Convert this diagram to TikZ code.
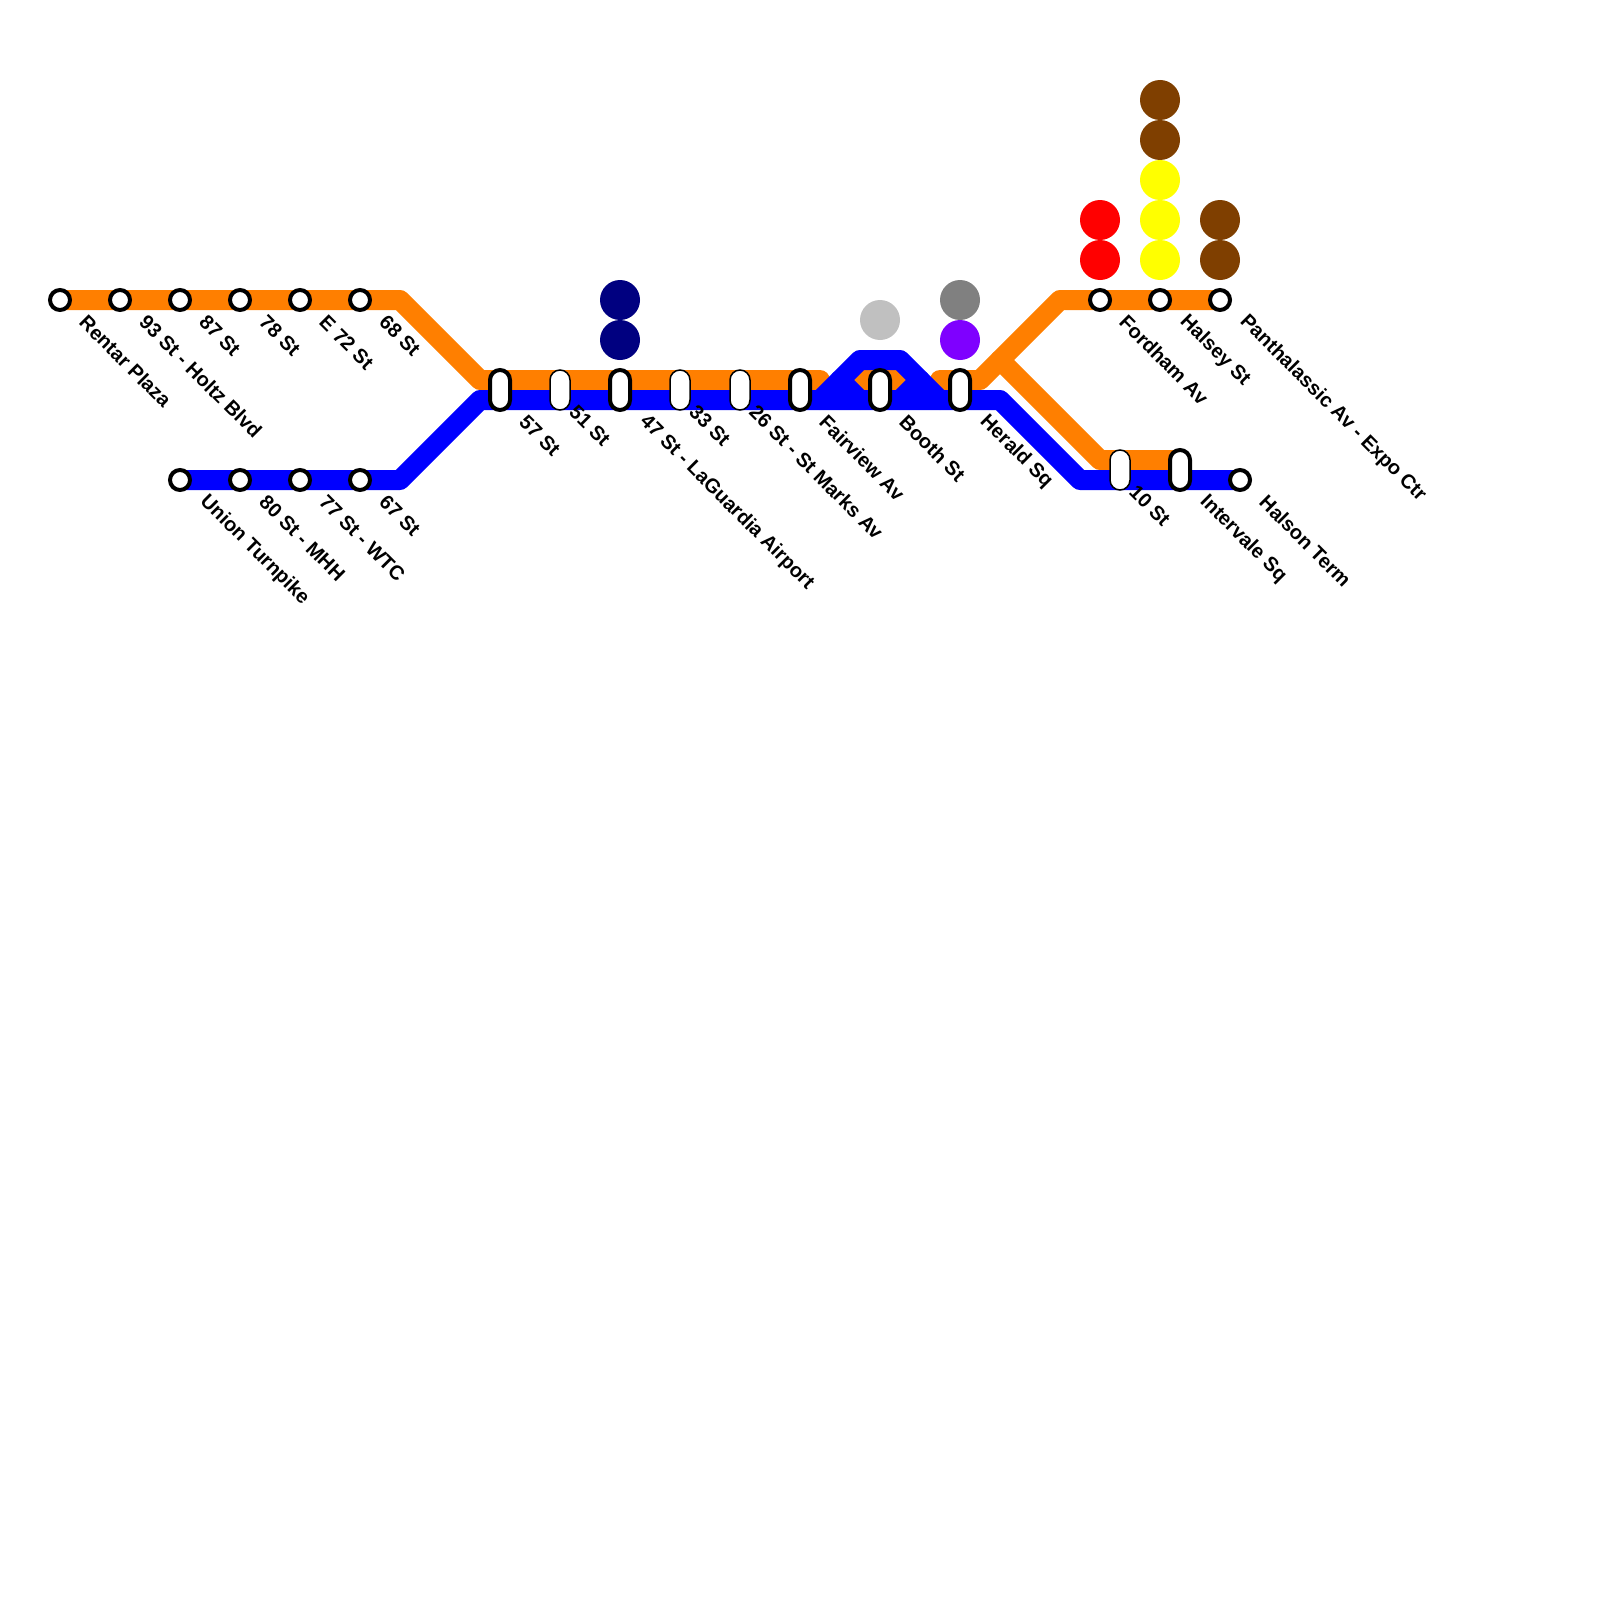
\documentclass[tikz,border=0pt]{standalone}
\usepackage{fontspec}
\setmainfont{Liberation Sans}
\tikzset{
  x=1pt,y=-1pt,
  orangeline/.style={draw=lineorange,line width=20pt,line join=round,line cap=round},
  blueline/.style={draw=lineblue,line width=20pt,line join=round,line cap=round},
  stop/.style={circle,draw=black,fill=white,line width=4pt,minimum size=20pt,inner sep=0pt},
  pillthick/.style={rectangle,draw=black,fill=white,line width=4pt,rounded corners=10pt,minimum width=20pt,minimum height=40pt,inner sep=0pt},
  pillthin/.style={rectangle,draw=black,fill=white,line width=1.5pt,rounded corners=10pt,minimum width=20pt,minimum height=40pt,inner sep=0pt},
  dot/.style={circle,minimum size=40pt,inner sep=0pt,fill=#1},
  lbl/.style={anchor=west,rotate=-45,inner sep=0pt,xshift=-4.5pt,yshift=3pt,font=\fontsize{20}{20}\selectfont\bfseries,text=black},
}
\definecolor{lineorange}{HTML}{FF7F00}
\definecolor{lineblue}{HTML}{0000FF}
\definecolor{dotnavy}{HTML}{000080}
\definecolor{dotbrown}{HTML}{7F3F00}
\definecolor{dotyellow}{HTML}{FFFF00}
\definecolor{dotred}{HTML}{FF0000}
\definecolor{dotpurple}{HTML}{7F00FF}
\definecolor{dotgray}{HTML}{808080}
\definecolor{dotsilver}{HTML}{C0C0C0}
\begin{document}
\begin{tikzpicture}
\useasboundingbox (0,0) rectangle (1600,1600);
% waypoints
\coordinate (oa) at (60,300);
\coordinate (ob) at (400,300);
\coordinate (oc) at (480,380);
\coordinate (oj) at (820,380);
\coordinate (ok) at (850,380);
\coordinate (ol) at (910,380);
\coordinate (om) at (940,380);
\coordinate (od) at (980,380);
\coordinate (oe) at (1060,300);
\coordinate (of) at (1220,300);
\coordinate (og) at (1000,360);
\coordinate (oh) at (1100,460);
\coordinate (oi) at (1180,460);
\coordinate (ba) at (180,480);
\coordinate (bb) at (400,480);
\coordinate (bc) at (480,400);
\coordinate (bd) at (1000,400);
\coordinate (be) at (1080,480);
\coordinate (bf) at (1240,480);
\coordinate (bg) at (820,400);
\coordinate (bh) at (860,360);
\coordinate (bi) at (900,360);
\coordinate (bj) at (940,400);
\coordinate (bk) at (840,380);
\coordinate (bl) at (860,400);
\coordinate (bm) at (920,380);
\coordinate (bn) at (900,400);
% lines
\draw[orangeline] (oa) -- (ob) -- (oc) -- (oj);
\draw[orangeline] (ok) -- (ol);
\draw[orangeline] (om) -- (od) -- (oe) -- (of);
\draw[orangeline] (og) -- (oh) -- (oi);
\draw[blueline] (ba) -- (bb) -- (bc) -- (bd) -- (be) -- (bf);
\draw[blueline] (bg) -- (bh) -- (bi) -- (bj);
\draw[blueline] (bk) -- (bl);
\draw[blueline] (bm) -- (bn);
% dots
\node[dot=dotnavy] (n1) at (620,300) {};
\node[dot=dotnavy] (n2) at (620,340) {};
\node[dot=dotsilver] (s1) at (880,320) {};
\node[dot=dotgray] (g1) at (960,300) {};
\node[dot=dotpurple] (p1) at (960,340) {};
\node[dot=dotred] (r1) at (1100,220) {};
\node[dot=dotred] (r2) at (1100,260) {};
\node[dot=dotbrown] (c1) at (1160,100) {};
\node[dot=dotbrown] (c2) at (1160,140) {};
\node[dot=dotyellow] (y1) at (1160,180) {};
\node[dot=dotyellow] (y2) at (1160,220) {};
\node[dot=dotyellow] (y3) at (1160,260) {};
\node[dot=dotbrown] (c3) at (1220,220) {};
\node[dot=dotbrown] (c4) at (1220,260) {};
% stations
\node[stop] (st1) at (60,300) {};
\node[stop] (st2) at (120,300) {};
\node[stop] (st3) at (180,300) {};
\node[stop] (st4) at (240,300) {};
\node[stop] (st5) at (300,300) {};
\node[stop] (st6) at (360,300) {};
\node[stop] (st7) at (180,480) {};
\node[stop] (st8) at (240,480) {};
\node[stop] (st9) at (300,480) {};
\node[stop] (st10) at (360,480) {};
\node[pillthick] (st11) at (500,390) {};
\node[pillthin] (st12) at (560,390) {};
\node[pillthick] (st13) at (620,390) {};
\node[pillthin] (st14) at (680,390) {};
\node[pillthin] (st15) at (740,390) {};
\node[pillthick] (st16) at (800,390) {};
\node[pillthick] (st17) at (880,390) {};
\node[pillthick] (st18) at (960,390) {};
\node[stop] (st19) at (1100,300) {};
\node[stop] (st20) at (1160,300) {};
\node[stop] (st21) at (1220,300) {};
\node[pillthin] (st22) at (1120,470) {};
\node[pillthick] (st23) at (1180,470) {};
\node[stop] (st24) at (1240,480) {};
% labels
\node[lbl] (l1) at (84,324) {Rentar Plaza};
\node[lbl] (l2) at (144,324) {93 St - Holtz Blvd};
\node[lbl] (l3) at (204,324) {87 St};
\node[lbl] (l4) at (264,324) {78 St};
\node[lbl] (l5) at (324,324) {E 72 St};
\node[lbl] (l6) at (384,324) {68 St};
\node[lbl] (l7) at (204,504) {Union Turnpike};
\node[lbl] (l8) at (264,504) {80 St - MHH};
\node[lbl] (l9) at (324,504) {77 St - WTC};
\node[lbl] (l10) at (384,504) {67 St};
\node[lbl] (l11) at (524,424) {57 St};
\node[lbl] (l12) at (574,414) {51 St};
\node[lbl] (l13) at (644,424) {47 St - LaGuardia Airport};
\node[lbl] (l14) at (694,414) {33 St};
\node[lbl] (l15) at (754,414) {26 St - St Marks Av};
\node[lbl] (l16) at (824,424) {Fairview Av};
\node[lbl] (l17) at (904,424) {Booth St};
\node[lbl] (l18) at (984,424) {Herald Sq};
\node[lbl] (l19) at (1124,324) {Fordham Av};
\node[lbl] (l20) at (1184,324) {Halsey St};
\node[lbl] (l21) at (1244,324) {Panthalassic Av - Expo Ctr};
\node[lbl] (l22) at (1134,494) {10 St};
\node[lbl] (l23) at (1204,504) {Intervale Sq};
\node[lbl] (l24) at (1264,504) {Halson Term};
\end{tikzpicture}
\end{document}
